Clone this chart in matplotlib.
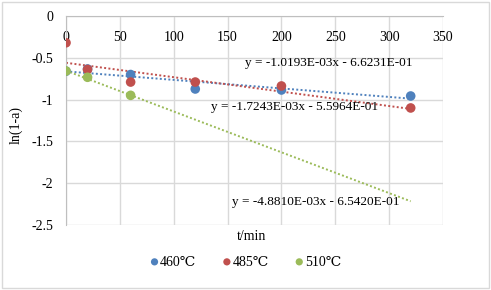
import matplotlib
matplotlib.use('Agg')
import matplotlib.pyplot as plt
import numpy as np
from matplotlib.patches import Rectangle

# data
t_460 = [0, 20, 60, 120, 200, 320]
y_460 = [-0.66, -0.634, -0.70, -0.873, -0.885, -0.957]
t_485 = [0, 20, 60, 120, 200, 320]
y_485 = [-0.32, -0.64, -0.79, -0.79, -0.837, -1.10]
t_510 = [0, 20, 60]
y_510 = [-0.658, -0.733, -0.949]

series_names = ['460℃', '485℃', '510℃']
# trendline coefficients as printed on the chart
slopes = [-1.0193e-03, -1.7243e-03, -4.8810e-03]
intercepts = [-6.6231e-01, -5.5964e-01, -6.5420e-01]
eq_labels = ['y = -1.0193E-03x - 6.6231E-01',
             'y = -1.7243E-03x - 5.5964E-01',
             'y = -4.8810E-03x - 6.5420E-01']

colores = ['#4F81BD', '#C0504D', '#9BBB59']

plt.rcParams['font.family'] = ['Liberation Serif', 'DejaVu Serif']
plt.rcParams['font.size'] = 10

fig = plt.figure(figsize=(4.91, 2.90), dpi=100)
ax = fig.add_axes([66/491, 1-225/290, 377/491, 209/290])

ts = [t_460, t_485, t_510]
ys = [y_460, y_485, y_510]
t_line = np.array([0, 320])
for n in range(3):
	ax.plot(t_line, slopes[n]*t_line + intercepts[n], linestyle=(0, (1, 1.2)), color=colores[n], lw=1.4, zorder=2)
for n in range(3):
	ax.scatter(ts[n], ys[n], s=48, color=colores[n], zorder=3, label=series_names[n], edgecolors='none')

# equation labels (placed where Excel put them)
ax.text(166, -0.565, eq_labels[0], ha='left', va='center', fontsize=9.5)
ax.text(135, -1.09, eq_labels[1], ha='left', va='center', fontsize=9.5)
ax.text(154, -2.22, eq_labels[2], ha='left', va='center', fontsize=9.5)

ax.set_xlim(0, 350)
ax.set_ylim(-2.5, 0)
ax.set_xticks(np.arange(0, 351, 50))
ax.set_yticks(np.arange(-2.5, 0.01, 0.5))
ax.set_yticklabels(['-2.5', '-2', '-1.5', '-1', '-0.5', '0'])
ax.grid(True, color='#D9D9D9', lw=1)
ax.set_axisbelow(True)

ax.spines['bottom'].set_position(('data', 0))
ax.spines['bottom'].set_color('#BFBFBF')
ax.spines['left'].set_color('#BFBFBF')
ax.spines['top'].set_visible(False)
ax.spines['right'].set_visible(False)
ax.tick_params(axis='both', length=0, labelsize=10)
ax.tick_params(axis='x', pad=11)
ax.tick_params(axis='y', pad=9)

fig.text(16/491, 1-125/290, 'ln(1-a)', rotation=90, ha='center', va='center', fontsize=10)
fig.text(252/491, 1-236/290, 't/min', ha='center', va='center', fontsize=10)

fig.legend(loc='center', bbox_to_anchor=(0.499, 1-262/290), ncol=3, frameon=False,
	fontsize=10, handlelength=0.8, handletextpad=0.0, columnspacing=1.8, markerscale=0.75)

fig.patches.append(Rectangle((2/491, 2/290), 487/491, 286/290, transform=fig.transFigure,
	fill=False, edgecolor='#D9D9D9', lw=1))

plt.savefig('out.png', dpi=100)
